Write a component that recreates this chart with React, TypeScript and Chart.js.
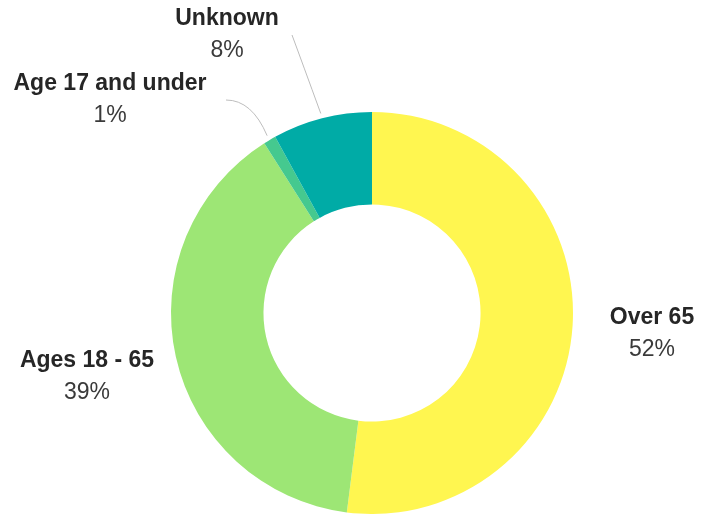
import React, { useEffect, useRef } from "react";
import { Chart, registerables } from "chart.js";

Chart.register(...registerables);

const categories = ["Over 65", "Ages 18 - 65", "Age 17 and under", "Unknown"];
const values = [52, 39, 1, 8];
const percentLabels = ["52%", "39%", "1%", "8%"];
const colors = ["#fff650", "#9de675", "#45c98f", "#00aba6"];

// label layout (center positions of label blocks) and leader-line settings
const labelLayout = [
  { x: 652, y: 318, line: false },
  { x: 87, y: 361, line: false },
  { x: 110, y: 84, line: true, end: { x: 226, y: 100 }, ctrl: { x: 252, y: 100 } },
  { x: 227, y: 19, line: true, end: { x: 292, y: 35 }, ctrl: { x: 302, y: 62 } },
];

const labelPlugin = {
  id: "outLabels",
  afterDatasetsDraw(chart: any) {
    const ctx = chart.ctx as CanvasRenderingContext2D;
    const meta = chart.getDatasetMeta(0);
    meta.data.forEach((arc: any, i: number) => {
      const p = arc.getProps(["x", "y", "startAngle", "endAngle", "outerRadius"], true);
      const L = labelLayout[i];
      if (L.line && L.end && L.ctrl) {
        const mid = (p.startAngle + p.endAngle) / 2;
        const r = p.outerRadius + 5;
        const sx = p.x + Math.cos(mid) * r;
        const sy = p.y + Math.sin(mid) * r;
        ctx.save();
        ctx.strokeStyle = "#bdbdbd";
        ctx.lineWidth = 1;
        ctx.beginPath();
        ctx.moveTo(sx, sy);
        ctx.quadraticCurveTo(L.ctrl.x, L.ctrl.y, L.end.x, L.end.y);
        ctx.stroke();
        ctx.restore();
      }
      ctx.save();
      ctx.textAlign = "center";
      ctx.textBaseline = "middle";
      ctx.fillStyle = "#262626";
      ctx.font = "bold 23px 'Liberation Sans', Arial, sans-serif";
      ctx.fillText(categories[i], L.x, L.y);
      ctx.fillStyle = "#3a3a3a";
      ctx.font = "23px 'Liberation Sans', Arial, sans-serif";
      ctx.fillText(percentLabels[i], L.x, L.y + 32);
      ctx.restore();
    });
  },
};

export default function App() {
  const ref = useRef<HTMLCanvasElement>(null);
  useEffect(() => {
    if (!ref.current) return;
    const chart = new Chart(ref.current, {
      type: "doughnut",
      data: {
        labels: categories,
        datasets: [
          {
            data: values,
            backgroundColor: colors,
            borderWidth: 0,
          },
        ],
      },
      options: {
        responsive: false,
        animation: false,
        cutout: "54%",
        layout: { padding: { left: 171, right: 140, top: 112, bottom: 0 } },
        plugins: {
          legend: { display: false },
          tooltip: { enabled: false },
        },
      },
      plugins: [labelPlugin],
    });
    return () => chart.destroy();
  }, []);
  return (
    <div style={{ position: "absolute", left: 0, top: 0, width: 713, height: 514, background: "#fff" }}>
      <canvas ref={ref} width={713} height={514} style={{ width: 713, height: 514 }} />
    </div>
  );
}
